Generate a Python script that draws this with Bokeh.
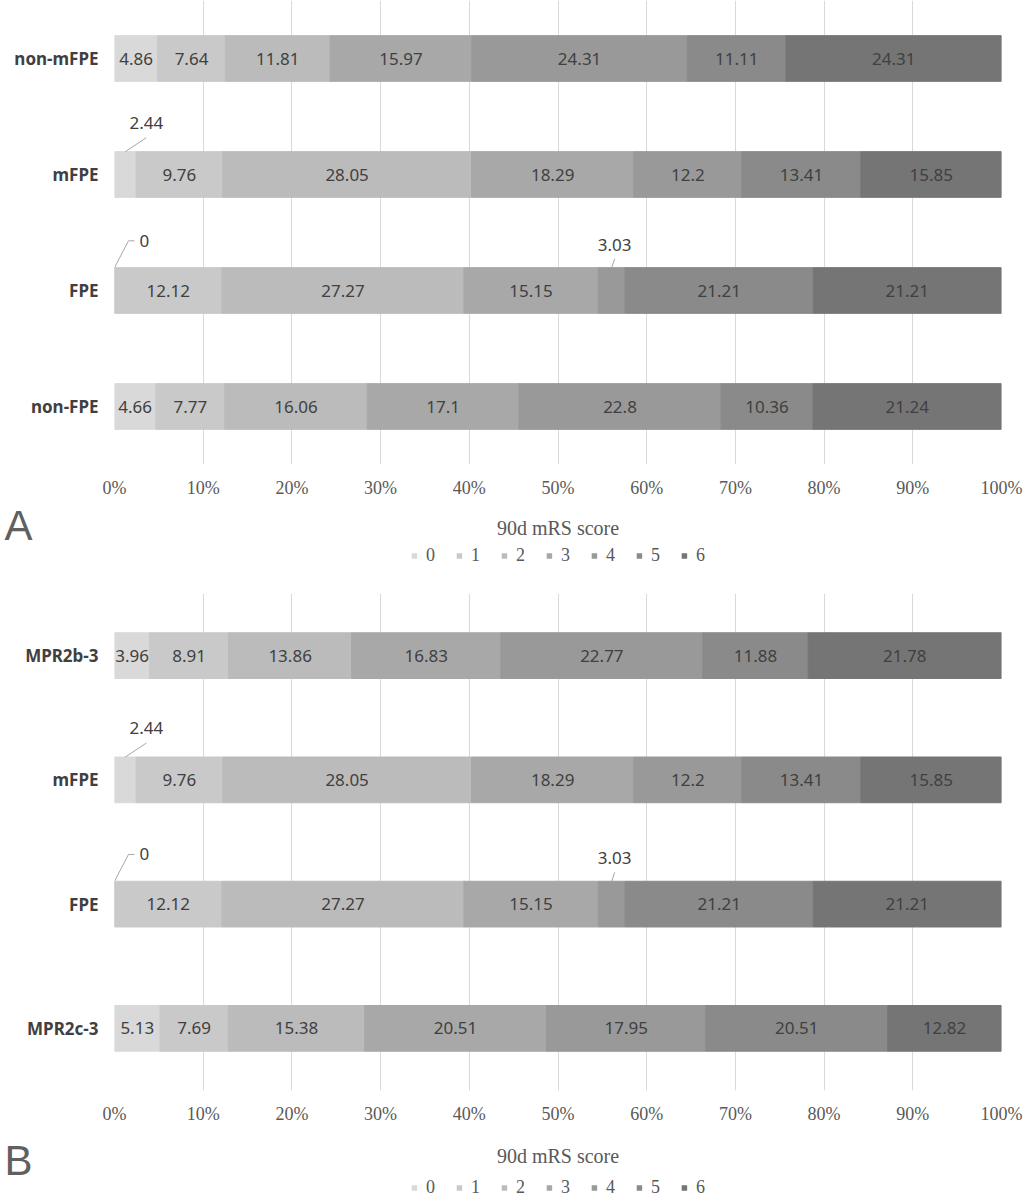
import numpy as np
from bokeh.plotting import figure
from bokeh.models import (ColumnDataSource, FactorRange, Range1d, FixedTicker,
                          Legend, LegendItem, Label)
from bokeh.layouts import column
from bokeh.core.properties import value
from bokeh.embed import file_html
from bokeh.resources import INLINE

# ---------------- data ----------------
scores = ["0", "1", "2", "3", "4", "5", "6"]
colors = ["#d9d9d9", "#c9c9c9", "#bbbbbb", "#a8a8a8", "#999999", "#8a8a8a", "#757575"]
ticks = [0, 10, 20, 30, 40, 50, 60, 70, 80, 90, 100]
tick_labels = ["0%", "10%", "20%", "30%", "40%", "50%", "60%", "70%", "80%", "90%", "100%"]
axis_title = "90d mRS score"

groups_a = ["non-mFPE", "mFPE", "FPE", "non-FPE"]
non_mfpe = [4.86, 7.64, 11.81, 15.97, 24.31, 11.11, 24.31]
mfpe = [2.44, 9.76, 28.05, 18.29, 12.2, 13.41, 15.85]
fpe = [0, 12.12, 27.27, 15.15, 3.03, 21.21, 21.21]
non_fpe = [4.66, 7.77, 16.06, 17.1, 22.8, 10.36, 21.24]

groups_b = ["MPR2b-3", "mFPE", "FPE", "MPR2c-3"]
mpr2b3 = [3.96, 8.91, 13.86, 16.83, 22.77, 11.88, 21.78]
mpr2c3 = [5.13, 7.69, 15.38, 20.51, 17.95, 20.51, 12.82]

rows_a = [non_mfpe, mfpe, fpe, non_fpe]
rows_b = [mpr2b3, mfpe, fpe, mpr2c3]

TXT = "#404040"
AX = "#595959"
LEADER = "#a6a6a6"
W = 1029
BL = 114   # common left border (frames are aligned in the column)
BR = 28    # common right border


def make_panel(groups, rows, H, bt, bb, bar_px):
    factors = groups[::-1]
    fw = W - BL - BR
    fh = H - bt - bb
    px_x = fw / 100.0          # px per percent
    px_y = fh / len(groups)    # px per category unit
    bar_h = bar_px / px_y

    p = figure(width=W, height=H, y_range=FactorRange(factors=factors),
               x_range=Range1d(0, 100), output_backend="svg",
               toolbar_location=None, min_border_left=BL, min_border_right=BR,
               min_border_top=bt, min_border_bottom=bb)
    p.outline_line_color = None

    data = {"grp": groups}
    for i, s in enumerate(scores):
        data[s] = [r[i] for r in rows]
    src = ColumnDataSource(data)
    p.hbar_stack(scores, y="grp", height=bar_h, color=colors, source=src)

    vals = np.array(rows, dtype=float)
    right = np.cumsum(vals, axis=1)
    left = right - vals
    mid = (left + right) / 2

    tx, ty, tt = [], [], []
    lx, ly = [], []
    cx, cy, ct, ca = [], [], [], []
    for r, g in enumerate(groups):
        yc = factors.index(g) + 0.5
        ytop = yc + bar_h / 2
        for k in range(len(scores)):
            v = vals[r, k]
            if v >= 3.5:
                tx.append(mid[r, k]); ty.append(g); tt.append(f"{v:g}")
            elif v == 0:
                x0 = left[r, k]
                lx.append([x0, x0 + 14 / px_x, x0 + 20 / px_x])
                ly.append([ytop, ytop + 27 / px_y, ytop + 27 / px_y])
                cx.append(x0 + 25 / px_x); cy.append(ytop + 27 / px_y)
                ct.append(f"{v:g}"); ca.append("left")
            elif k == 0:
                x0 = mid[r, k]
                lx.append([x0, x0 + 21 / px_x])
                ly.append([ytop, ytop + 14 / px_y])
                cx.append(x0 + 21 / px_x); cy.append(ytop + 29 / px_y)
                ct.append(f"{v:g}"); ca.append("center")
            else:
                x0 = mid[r, k]
                lx.append([x0, x0 + 3 / px_x])
                ly.append([ytop, ytop + 9 / px_y])
                cx.append(x0 + 3 / px_x); cy.append(ytop + 23 / px_y)
                ct.append(f"{v:g}"); ca.append("center")

    p.text(x=tx, y=ty, text=tt, text_align="center", text_baseline="middle",
           text_font=value("Noto Sans"), text_font_size="17px", text_color=TXT)
    if lx:
        p.multi_line(xs=lx, ys=ly, line_color=LEADER, line_width=1)
        p.text(x=cx, y=cy, text=ct, text_align=ca, text_baseline="middle",
               text_font=value("Noto Sans"), text_font_size="17px", text_color=TXT)

    # axes
    p.xaxis.ticker = FixedTicker(ticks=ticks)
    p.xaxis.major_label_overrides = {t: l for t, l in zip(ticks, tick_labels)}
    p.xaxis.axis_line_color = None
    p.xaxis.major_tick_line_color = None
    p.xaxis.minor_tick_line_color = None
    p.xaxis.major_tick_out = 0
    p.xaxis.major_tick_in = 0
    p.xaxis.major_label_standoff = 13
    p.xaxis.major_label_text_font = "Liberation Serif"
    p.xaxis.major_label_text_font_size = "18px"
    p.xaxis.major_label_text_color = AX

    p.yaxis.axis_line_color = None
    p.yaxis.major_tick_line_color = None
    p.yaxis.major_tick_out = 0
    p.yaxis.major_tick_in = 0
    p.yaxis.major_label_standoff = 16
    p.yaxis.major_label_text_font = "Noto Sans"
    p.yaxis.major_label_text_font_style = "bold"
    p.yaxis.major_label_text_font_size = "17px"
    p.yaxis.major_label_text_color = TXT

    p.xgrid.ticker = FixedTicker(ticks=ticks)
    p.xgrid.grid_line_color = "#d9d9d9"
    p.xgrid.grid_line_width = 1
    p.ygrid.grid_line_color = None
    return p


def make_footer(H, letter, letter_top, title_top, legend_margin):
    # footer strip: panel letter (left-axis label), x-axis title and legend
    q = figure(width=W, height=H, x_range=Range1d(0, 100), y_range=Range1d(0, H),
               output_backend="svg", toolbar_location=None,
               min_border_left=BL, min_border_right=BR, min_border_top=0,
               min_border_bottom=0, x_axis_type=None)
    q.outline_line_color = None
    q.xgrid.visible = False
    q.ygrid.visible = False
    ly = H - letter_top
    q.yaxis.ticker = FixedTicker(ticks=[ly])
    q.yaxis.major_label_overrides = {ly: letter}
    q.yaxis.axis_line_color = None
    q.yaxis.major_tick_line_color = None
    q.yaxis.minor_tick_line_color = None
    q.yaxis.major_tick_out = 0
    q.yaxis.major_tick_in = 0
    q.yaxis.major_label_standoff = BL - 32
    q.yaxis.major_label_text_font = "Liberation Sans"
    q.yaxis.major_label_text_font_size = "42px"
    q.yaxis.major_label_text_color = "#606060"
    q.add_layout(Label(x=50, y=H - title_top, text=axis_title, text_align="center",
                       text_baseline="middle", text_font="Liberation Serif",
                       text_font_size="20px", text_color=AX))
    items = []
    for s, c in zip(scores, colors):
        # zero-size placeholder glyph, used only for the legend swatch
        r = q.hbar(y=[1], left=[50], right=[50], height=0,
                   fill_color=c, line_color=None)
        items.append(LegendItem(label=s, renderers=[r]))
    legend = Legend(items=items, orientation="horizontal", location="bottom_center",
                    glyph_width=7, glyph_height=7, label_standoff=9, spacing=20,
                    label_width=9, label_height=14,
                    label_text_font="Liberation Serif", label_text_font_size="18px",
                    label_text_color=AX, border_line_color=None,
                    background_fill_alpha=0, padding=0, margin=legend_margin)
    q.add_layout(legend, "center")
    return q


pA = make_panel(groups_a, rows_a, 500, 0, 33, 46)
fA = make_footer(69, "A", 25, 27, 3)
pB = make_panel(groups_b, rows_b, 557, 24, 33, 46)
fB = make_footer(74, "B", 34, 29, 2)

layout = column(pA, fA, pB, fB, spacing=0)
open("out.html", "w").write(file_html(layout, INLINE))
